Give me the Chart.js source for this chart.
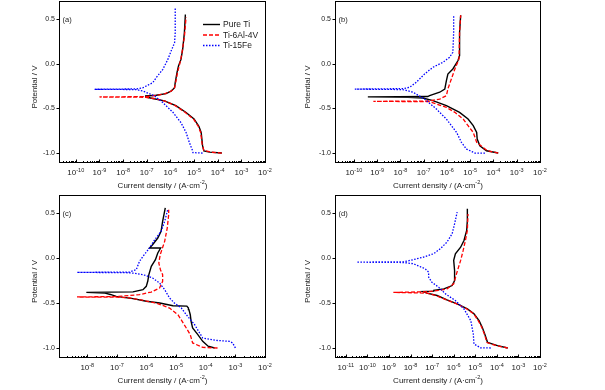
<!DOCTYPE html>
<html><head><meta charset="utf-8"><title>Potentiodynamic polarization curves</title>
<script src="https://cdn.jsdelivr.net/npm/chart.js@4.4.1/dist/chart.umd.min.js"></script>
<style>
html,body{margin:0;padding:0;background:#fff;}
#wrap{position:relative;width:605px;height:390px;overflow:hidden;background:#fff;}
#wrap canvas{position:absolute;}
</style></head><body>
<div id="wrap">
<canvas id="ca" width="300" height="195" style="left:0px;top:0px"></canvas>
<canvas id="cb" width="305" height="195" style="left:300px;top:0px"></canvas>
<canvas id="cc" width="300" height="200" style="left:0px;top:190px"></canvas>
<canvas id="cd" width="305" height="200" style="left:300px;top:190px"></canvas>
</div>
<script>
// ---------- series names ----------
const seriesNames = ['Pure Ti', 'Ti-6Al-4V', 'Ti-15Fe'];
const panelTags = ['(a)', '(b)', '(c)', '(d)'];
const yTicks = [-1.0, -0.5, 0.0, 0.5];
const yMin = -1.1, yMax = 0.7;

// ---------- x-axis ranges (A/cm2) and labelled decades ----------
const aXMin = 1.95e-11, aXMax = 1e-2, aExps = [-10, -9, -8, -7, -6, -5, -4, -3, -2];
const bXMin = 1.55e-11, bXMax = 1e-2, bExps = [-10, -9, -8, -7, -6, -5, -4, -3, -2];
const cXMin = 1.11e-9,  cXMax = 1e-2, cExps = [-8, -7, -6, -5, -4, -3, -2];
const dXMin = 3.16e-12, dXMax = 1e-2, dExps = [-11, -10, -9, -8, -7, -6, -5, -4, -3, -2];

// ---------- panel (a) ----------
const aTiE = [-1.0, -0.99, -0.975, -0.92, -0.77, -0.70, -0.62, -0.547, -0.47, -0.417, -0.39, -0.373, -0.362, -0.354, -0.335, -0.306, -0.27, -0.213, -0.10, -0.027, 0.047, 0.158, 0.344, 0.55];
const aTiI = [1.5e-4, 4.5e-5, 2.6e-5, 2.3e-5, 2.0e-5, 1.6e-5, 1.0e-5, 4.6e-6, 1.7e-6, 5.6e-7, 1.8e-7, 9.3e-8, 9.0e-8, 2.5e-7, 6.6e-7, 1.1e-6, 1.5e-6, 1.6e-6, 1.9e-6, 2.2e-6, 2.8e-6, 3.3e-6, 3.9e-6, 4.3e-6];
const a64E = [-1.0, -0.99, -0.97, -0.9, -0.77, -0.70, -0.62, -0.547, -0.47, -0.42, -0.39, -0.376, -0.373, -0.369, -0.354, -0.335, -0.306, -0.27, -0.2, -0.1, 0.0, 0.1, 0.3, 0.52];
const a64I = [1.5e-4, 5.0e-5, 2.6e-5, 2.2e-5, 1.9e-5, 1.5e-5, 9.5e-6, 4.3e-6, 1.6e-6, 6.0e-7, 2.0e-7, 9.0e-8, 1.0e-9, 1.0e-7, 2.6e-7, 6.0e-7, 1.1e-6, 1.5e-6, 1.7e-6, 2.0e-6, 2.5e-6, 3.0e-6, 3.9e-6, 4.6e-6];
const aFeE = [-1.0, -0.995, -0.975, -0.88, -0.77, -0.66, -0.547, -0.436, -0.36, -0.306, -0.29, -0.287, -0.283, -0.27, -0.213, -0.157, -0.064, 0.047, 0.14, 0.233, 0.344, 0.49, 0.62];
const aFeI = [2.3e-5, 9.0e-6, 8.7e-6, 6.3e-6, 4.6e-6, 2.8e-6, 1.3e-6, 4.8e-7, 2.1e-7, 6.8e-8, 3.5e-8, 6.2e-10, 3.5e-8, 6.8e-8, 1.8e-7, 2.5e-7, 4.8e-7, 7.8e-7, 1.07e-6, 1.5e-6, 1.6e-6, 1.6e-6, 1.6e-6];

// ---------- panel (b) ----------
const bTiE = [-1.0, -0.974, -0.918, -0.843, -0.769, -0.694, -0.62, -0.545, -0.47, -0.414, -0.384, -0.376, -0.372, -0.368, -0.358, -0.32, -0.284, -0.19, -0.116, -0.06, 0.034, 0.09, 0.35, 0.54];
const bTiI = [1.6e-4, 5.0e-5, 2.6e-5, 2.0e-5, 1.9e-5, 1.35e-5, 8.1e-6, 3.5e-6, 9.5e-7, 2.5e-7, 9.3e-8, 2.1e-8, 4.0e-10, 1.5e-7, 1.8e-7, 4.9e-7, 8.1e-7, 9.5e-7, 1.1e-6, 1.8e-6, 3.0e-6, 3.5e-6, 3.5e-6, 3.9e-6];
const b64E = [-1.0, -0.974, -0.88, -0.769, -0.694, -0.62, -0.545, -0.489, -0.451, -0.425, -0.422, -0.418, -0.396, -0.358, -0.284, -0.172, -0.06, 0.052, 0.35, 0.54];
const b64I = [1.6e-4, 5.5e-5, 1.9e-5, 1.35e-5, 8.1e-6, 5.0e-6, 2.2e-6, 9.5e-7, 3.5e-7, 1.8e-7, 6.9e-10, 1.8e-7, 4.9e-7, 9.5e-7, 1.1e-6, 1.55e-6, 2.2e-6, 3.3e-6, 3.5e-6, 3.9e-6];
const bFeE = [-1.0, -1.0, -0.955, -0.88, -0.769, -0.62, -0.507, -0.396, -0.32, -0.29, -0.285, -0.28, -0.265, -0.209, -0.116, -0.041, 0.015, 0.071, 0.127, 0.35, 0.54];
const bFeI = [4.3e-5, 1.6e-5, 6.9e-6, 4.2e-6, 2.6e-6, 9.5e-7, 3.5e-7, 1.1e-7, 3.5e-8, 1.3e-8, 1.1e-10, 1.3e-8, 2.5e-8, 4.8e-8, 1.1e-7, 2.5e-7, 6.8e-7, 1.3e-6, 1.8e-6, 1.95e-6, 1.95e-6];

// ---------- panel (c) ----------
const cTiE = [-1.0, -0.98, -0.926, -0.852, -0.778, -0.704, -0.63, -0.574, -0.556, -0.535, -0.53, -0.5, -0.48, -0.452, -0.426, -0.405, -0.39, -0.382, -0.376, -0.352, -0.315, -0.259, -0.185, -0.093, -0.019, 0.056, 0.111, 0.111, 0.148, 0.222, 0.296, 0.407, 0.556];
const cTiI = [2.0e-4, 1.2e-4, 7.9e-5, 5.4e-5, 3.6e-5, 3.2e-5, 3.0e-5, 2.7e-5, 2.6e-5, 2.3e-5, 7.8e-6, 2.8e-6, 9.8e-7, 3.5e-7, 9.5e-8, 6.0e-8, 4.0e-8, 9.3e-9, 3.5e-7, 7.6e-7, 9.8e-7, 1.1e-6, 1.2e-6, 1.45e-6, 2.0e-6, 2.4e-6, 3.0e-6, 1.26e-6, 1.6e-6, 2.4e-6, 3.1e-6, 3.5e-6, 4.3e-6];
const c64E = [-1.0, -0.993, -0.944, -0.852, -0.778, -0.704, -0.63, -0.556, -0.5, -0.463, -0.444, -0.435, -0.433, -0.428, -0.407, -0.378, -0.333, -0.259, -0.185, -0.13, -0.056, 0.037, 0.185, 0.333, 0.48, 0.537];
const c64I = [2.5e-4, 7.9e-5, 3.6e-5, 3.0e-5, 2.2e-5, 1.6e-5, 1.15e-5, 6.0e-6, 2.1e-6, 5.8e-7, 2.7e-7, 1.0e-7, 4.5e-9, 1.0e-7, 5.8e-7, 1.45e-6, 2.75e-6, 3.5e-6, 3.5e-6, 2.95e-6, 2.6e-6, 2.9e-6, 4.1e-6, 5.0e-6, 5.6e-6, 5.6e-6];
const cFeE = [-1.0, -0.944, -0.926, -0.915, -0.889, -0.833, -0.74, -0.63, -0.556, -0.5, -0.444, -0.352, -0.278, -0.222, -0.185, -0.17, -0.162, -0.16, -0.156, -0.13, -0.037, 0.019, 0.111, 0.204, 0.296, 0.407, 0.537];
const cFeI = [1.0e-3, 8.1e-4, 6.3e-4, 2.2e-4, 7.9e-5, 6.2e-5, 4.2e-5, 2.2e-5, 1.5e-5, 8.7e-6, 6.0e-6, 4.1e-6, 2.75e-6, 1.6e-6, 7.6e-7, 4.0e-7, 2.0e-7, 4.5e-9, 2.7e-7, 4.5e-7, 5.8e-7, 7.6e-7, 1.26e-6, 1.9e-6, 3.1e-6, 4.1e-6, 5.2e-6];

// ---------- panel (d) ----------
const dTiE = [-1.0, -0.974, -0.937, -0.844, -0.77, -0.696, -0.62, -0.566, -0.51, -0.465, -0.417, -0.39, -0.373, -0.368, -0.36, -0.343, -0.306, -0.25, -0.139, -0.027, 0.047, 0.12, 0.195, 0.307, 0.418, 0.548];
const dTiI = [3.2e-4, 1.07e-4, 3.7e-5, 2.75e-5, 2.1e-5, 1.5e-5, 8.7e-6, 4.3e-6, 1.45e-6, 4.9e-7, 1.7e-7, 5.8e-8, 3.7e-8, 1.2e-7, 1.2e-7, 3.5e-7, 8.5e-7, 1.1e-6, 1.1e-6, 1.0e-6, 1.2e-6, 2.1e-6, 3.0e-6, 4.0e-6, 4.3e-6, 4.3e-6];
const d64E = [-1.0, -0.975, -0.94, -0.84, -0.77, -0.7, -0.62, -0.566, -0.51, -0.465, -0.42, -0.39, -0.382, -0.375, -0.36, -0.343, -0.287, -0.176, -0.027, 0.084, 0.195, 0.307, 0.49];
const d64I = [3.2e-4, 1.0e-4, 3.5e-5, 2.6e-5, 2.0e-5, 1.4e-5, 8.5e-6, 4.1e-6, 1.4e-6, 4.6e-7, 1.6e-7, 6.0e-8, 1.6e-9, 6.0e-8, 2.0e-7, 4.9e-7, 1.0e-6, 1.35e-6, 2.1e-6, 2.75e-6, 3.5e-6, 4.3e-6, 4.6e-6];
const dFeE = [-1.0, -0.998, -0.955, -0.844, -0.696, -0.566, -0.473, -0.399, -0.324, -0.27, -0.213, -0.157, -0.12, -0.064, -0.05, -0.046, -0.042, -0.027, 0.01, 0.047, 0.103, 0.177, 0.27, 0.38, 0.51];
const dFeI = [5.2e-5, 1.78e-5, 8.7e-6, 8.1e-6, 6.2e-6, 3.0e-6, 1.2e-6, 4.2e-7, 2.0e-7, 9.8e-8, 6.9e-8, 6.9e-8, 4.8e-8, 1.35e-8, 4.7e-9, 3.2e-11, 4.7e-9, 9.5e-9, 4.0e-8, 1.17e-7, 2.4e-7, 4.9e-7, 8.5e-7, 1.1e-6, 1.45e-6];

// ---------- styling ----------
const FAM = '"Liberation Sans", Arial, Helvetica, sans-serif';
const TXT = '#1a1a1a';
const styles = [
  {color: '#000000', dash: [], width: 1.4},
  {color: '#ff0000', dash: [4, 2], width: 1.3},
  {color: '#0000ff', dash: [1.5, 1.5], width: 1.3}
];

const panels = [
  {id: 'ca', tag: panelTags[0], cv: {x: 0, y: 0, w: 300, h: 195}, area: {L: 59, R: 265, T: 1, B: 162},
   xMin: aXMin, xMax: aXMax, exps: aExps, ytx: 35, legend: true,
   series: [[aTiI, aTiE], [a64I, a64E], [aFeI, aFeE]]},
  {id: 'cb', tag: panelTags[1], cv: {x: 300, y: 0, w: 305, h: 195}, area: {L: 335, R: 540, T: 1, B: 162},
   xMin: bXMin, xMax: bXMax, exps: bExps, ytx: 308, legend: false,
   series: [[bTiI, bTiE], [b64I, b64E], [bFeI, bFeE]]},
  {id: 'cc', tag: panelTags[2], cv: {x: 0, y: 190, w: 300, h: 200}, area: {L: 59, R: 265, T: 195, B: 357},
   xMin: cXMin, xMax: cXMax, exps: cExps, ytx: 35, legend: false,
   series: [[cTiI, cTiE], [c64I, c64E], [cFeI, cFeE]]},
  {id: 'cd', tag: panelTags[3], cv: {x: 300, y: 190, w: 305, h: 200}, area: {L: 335, R: 540, T: 195, B: 357},
   xMin: dXMin, xMax: dXMax, exps: dExps, ytx: 308, legend: false,
   series: [[dTiI, dTiE], [d64I, d64E], [dFeI, dFeE]]}
];

function supText(ctx, cx, baseY, base, sup, fb, fs, rise, tail) {
  ctx.font = fb + 'px ' + FAM;
  const wb = ctx.measureText(base).width;
  const wt = tail ? ctx.measureText(tail).width : 0;
  ctx.font = fs + 'px ' + FAM;
  const ws = ctx.measureText(sup).width;
  const x0 = cx - (wb + ws + wt) / 2;
  ctx.textAlign = 'left';
  ctx.textBaseline = 'alphabetic';
  ctx.font = fb + 'px ' + FAM;
  ctx.fillText(base, x0, baseY);
  if (tail) ctx.fillText(tail, x0 + wb + ws, baseY);
  ctx.font = fs + 'px ' + FAM;
  ctx.fillText(sup, x0 + wb, baseY - rise);
}

function decor(p) {
  return {
    id: 'decor_' + p.id,
    afterDraw(chart) {
      const ctx = chart.ctx, a = chart.chartArea, xs = chart.scales.x, ys = chart.scales.y;
      const l = Math.round(a.left) + 0.5, r = Math.round(a.right) + 0.5;
      const t = Math.round(a.top) + 0.5, b = Math.round(a.bottom) + 0.5;
      ctx.save();
      ctx.strokeStyle = '#000'; ctx.lineWidth = 1; ctx.setLineDash([]);
      ctx.strokeRect(l, t, r - l, b - t);
      ctx.beginPath();
      yTicks.forEach(v => {
        const y = Math.round(ys.getPixelForValue(v)) + 0.5;
        ctx.moveTo(l, y); ctx.lineTo(l - 3, y);
      });
      const lo = Math.floor(Math.log10(p.xMin)), hi = Math.ceil(Math.log10(p.xMax));
      for (let e = lo; e <= hi; e++) {
        for (let k = 1; k <= 9; k++) {
          const v = k * Math.pow(10, e);
          if (v < p.xMin * 0.999 || v > p.xMax * 1.001) continue;
          const x = Math.round(xs.getPixelForValue(v)) + 0.5;
          ctx.moveTo(x, b); ctx.lineTo(x, b - (k === 1 ? 3 : 1.5));
        }
      }
      ctx.stroke();
      ctx.fillStyle = TXT;
      // x tick labels
      p.exps.forEach(e => {
        const x = xs.getPixelForValue(Math.pow(10, e));
        supText(ctx, x, b + 12.5, '10', String(e), 8, 5.5, 3.5);
      });
      // x title
      supText(ctx, (l + r) / 2, b + 25, 'Current density / (A\u00b7cm', '-2', 8, 5.5, 3.5, ')');
      // y title
      ctx.save();
      ctx.translate(p.ytx - p.cv.x, (t + b) / 2 + 5);
      ctx.rotate(-Math.PI / 2);
      ctx.font = '8px ' + FAM;
      ctx.textAlign = 'center'; ctx.textBaseline = 'middle';
      ctx.fillText('Potential / V', 0, 0);
      ctx.restore();
      // panel tag
      ctx.font = '7.5px ' + FAM;
      ctx.textAlign = 'left'; ctx.textBaseline = 'middle';
      ctx.fillText(p.tag, l + 3, Math.round(ys.getPixelForValue(yTicks[3])) + 0.5);
      // legend
      if (p.legend) {
        const rows = [24.5, 35, 45.5];
        chart.data.datasets.forEach((ds, i) => {
          const y = rows[i] - p.cv.y;
          ctx.strokeStyle = ds.borderColor; ctx.lineWidth = ds.borderWidth;
          ctx.setLineDash(ds.borderDash);
          ctx.beginPath(); ctx.moveTo(203 - p.cv.x, y); ctx.lineTo(220 - p.cv.x, y); ctx.stroke();
          ctx.setLineDash([]);
          ctx.fillStyle = TXT;
          ctx.font = '8.5px ' + FAM;
          ctx.textAlign = 'left'; ctx.textBaseline = 'middle';
          ctx.fillText(ds.label, 223 - p.cv.x, y + 0.5);
        });
      }
      ctx.restore();
    }
  };
}

function build(p) {
  const c = p.cv, A = p.area;
  const datasets = p.series.map((s, i) => ({
    label: seriesNames[i],
    data: s[0].map((v, k) => ({x: v, y: s[1][k]})),
    showLine: true, pointRadius: 0, pointHoverRadius: 0,
    borderColor: styles[i].color, backgroundColor: styles[i].color,
    borderWidth: styles[i].width, borderDash: styles[i].dash,
    fill: false, tension: 0, order: 2 - i
  }));
  new Chart(document.getElementById(p.id), {
    type: 'scatter',
    data: {datasets},
    options: {
      responsive: false, animation: false, events: [],
      layout: {padding: {left: 0, top: A.T - c.y, right: c.x + c.w - A.R, bottom: 0}},
      plugins: {legend: {display: false}, tooltip: {enabled: false}, title: {display: false}},
      scales: {
        x: {type: 'logarithmic', position: 'bottom', min: p.xMin, max: p.xMax,
            ticks: {display: false}, grid: {display: false, drawTicks: false}, border: {display: false},
            afterFit(s) { s.height = c.y + c.h - A.B; s.paddingLeft = 0; s.paddingRight = 0; }},
        y: {type: 'linear', position: 'left', min: yMin, max: yMax,
            afterBuildTicks(s) { s.ticks = yTicks.map(v => ({value: v})); },
            ticks: {font: {family: FAM, size: 7}, color: TXT, padding: 4,
                    callback: v => Number(v).toFixed(1)},
            grid: {display: false, drawTicks: false}, border: {display: false},
            afterFit(s) { s.width = A.L - c.x; s.paddingTop = 0; s.paddingBottom = 0; }}
      }
    },
    plugins: [decor(p)]
  });
}

panels.forEach(build);
</script>
</body></html>
